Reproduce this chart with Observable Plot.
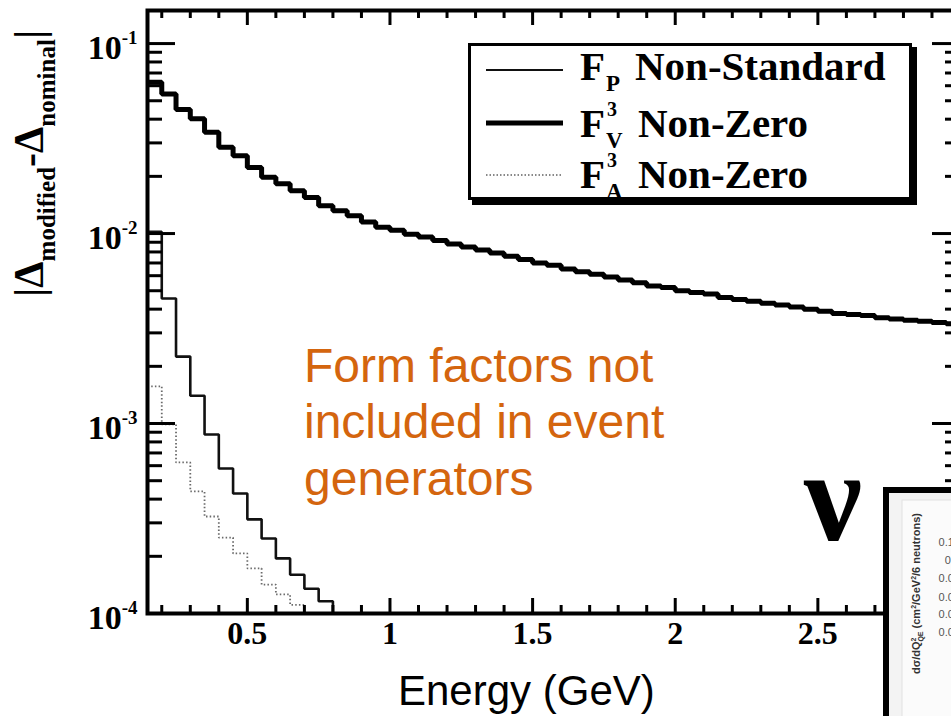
<!DOCTYPE html>
<html><head><meta charset="utf-8">
<script src="https://cdn.jsdelivr.net/npm/d3@7"></script>
<script src="https://cdn.jsdelivr.net/npm/@observablehq/plot@0.6"></script>
<style>
html,body{margin:0;padding:0;background:#fff;overflow:hidden;width:951px;height:716px;}
#wrap{position:relative;width:951px;height:716px;overflow:hidden;background:#fff;}
#wrap > svg{position:absolute;left:0;top:0;max-width:none !important;}
</style></head>
<body><div id="wrap"></div>
<script>
// ---------- data ----------
const binEdges = [0.15,0.20,0.25,0.30,0.35,0.40,0.45,0.50,0.55,0.60,0.65,0.70,0.75,0.80,0.85,0.90,0.95,1.00,
  1.05,1.10,1.15,1.20,1.25,1.30,1.35,1.40,1.45,1.50,1.55,1.60,1.65,1.70,1.75,1.80,1.85,1.90,1.95,2.00,
  2.05,2.10,2.15,2.20,2.25,2.30,2.35,2.40,2.45,2.50,2.55,2.60,2.65,2.70,2.75,2.80,2.85,2.90,2.95,3.00];

// F_V^3 Non-Zero (thick)
const fvValues = [0.0625,0.0543,0.0450,0.0402,0.0341,0.0285,0.0257,0.0223,0.0198,0.0183,0.0168,0.0155,
  0.0140,0.0132,0.0124,0.0115,0.0108,0.0104,0.0099,0.0096,0.0092,0.0088,0.0085,0.0082,0.0079,0.0076,
  0.0073,0.0070,0.0068,0.0065,0.0063,0.0061,0.0059,0.0057,0.0055,0.0053,0.0052,0.0050,0.0049,0.0048,
  0.0046,0.0045,0.0044,0.0043,0.0042,0.0041,0.0040,0.0039,0.0038,0.00375,0.0037,0.0036,0.00355,0.0035,
  0.00345,0.0034,0.00335];
// F_P Non-Standard (thin solid)
const fpValues = [0.0102,0.00455,0.00225,0.00140,0.000875,0.000580,0.000428,0.000313,0.000248,0.000195,
  0.000160,0.000135,0.000116,0.00008];
// F_A^3 Non-Zero (dotted)
const faValues = [0.00157,0.00099,0.000624,0.000439,0.000324,0.000251,0.000207,0.000173,0.000142,
  0.000126,0.000111,0.00009];

const xDomain = [0.15, 3.0];
const yDomain = [1e-4, 0.1493];
const xTickLabels = [0.5, 1, 1.5, 2, 2.5];
const xMajor = [0.5, 1, 1.5, 2, 2.5, 3];
const xMinor = [0.2,0.3,0.4,0.6,0.7,0.8,0.9,1.1,1.2,1.3,1.4,1.6,1.7,1.8,1.9,2.1,2.2,2.3,2.4,2.6,2.7,2.8,2.9];
const yDecades = [1e-4, 1e-3, 1e-2, 1e-1];
const yMinorMult = [2,3,4,5,6,7,8,9];

const legendEntries = [
  {main: "F", sub: "P", sup: "", text: "Non-Standard"},
  {main: "F", sub: "V", sup: "3", text: "Non-Zero"},
  {main: "F", sub: "A", sup: "3", text: "Non-Zero"}
];
const noteLines = ["Form factors not", "included in event", "generators"];
const insetTicks = ["0.12", "0.1", "0.08", "0.06", "0.04", "0.02"];

// ---------- build ----------
const hist = (vals) => vals.map((v, i) => ({E: binEdges[i], v}))
  .concat([{E: binEdges[vals.length], v: vals[vals.length - 1]}]);
const yMinor = yDecades.flatMap(d => yMinorMult.map(k => k * d)).filter(v => v < yDomain[1]);

const serif = "Liberation Serif, Times New Roman, serif";
const sans = "Liberation Sans, Arial, sans-serif";

const W = 962, H = 716, ML = 147, MR = 2, MT = 10, MB = 103;
// library scales, used to turn fixed tick lengths (px) into data-space ends
const xs = Plot.scale({x: {domain: xDomain, range: [ML, W - MR]}});
const ys = Plot.scale({y: {type: "log", domain: yDomain, range: [H - MB, MT]}});
const yBot = (px) => ys.invert(H - MB - px);
const yTop = (px) => ys.invert(MT + px);
const xLft = (px) => xs.invert(ML + px);
const xRgt = (px) => xs.invert(W - MR - px);
const tk = {stroke: "#000", strokeWidth: 3};

const chart = Plot.plot({
  width: W, height: H,
  marginLeft: ML, marginRight: MR, marginTop: MT, marginBottom: MB,
  x: {domain: xDomain},
  y: {type: "log", domain: yDomain},
  style: {fontFamily: serif, fontWeight: "bold", fontSize: "32px", background: "#fff", color: "#000", maxWidth: "none"},
  marks: [
    Plot.line(hist(faValues), {x: "E", y: "v", curve: "step-after", stroke: "#6a6a6a", strokeWidth: 1.8,
      strokeDasharray: "1.5,2.2", strokeLinejoin: "miter", strokeLinecap: "butt", clip: true}),
    Plot.line(hist(fpValues), {x: "E", y: "v", curve: "step-after", stroke: "#111", strokeWidth: 2.6,
      strokeLinejoin: "miter", strokeLinecap: "butt", clip: true}),
    Plot.line(hist(fvValues), {x: "E", y: "v", curve: "step-after", stroke: "#000", strokeWidth: 5,
      strokeLinejoin: "miter", strokeLinecap: "butt", clip: true}),
    // inward ticks
    Plot.ruleX(xMajor, {x: d => d, y1: () => yDomain[0], y2: () => yBot(15), ...tk}),
    Plot.ruleX(xMinor, {x: d => d, y1: () => yDomain[0], y2: () => yBot(8), ...tk}),
    Plot.ruleX(xMajor, {x: d => d, y1: () => yTop(15), y2: () => yDomain[1], ...tk}),
    Plot.ruleX(xMinor, {x: d => d, y1: () => yTop(8), y2: () => yDomain[1], ...tk}),
    Plot.ruleY(yDecades, {y: d => d, x1: () => xDomain[0], x2: () => xLft(28), ...tk}),
    Plot.ruleY(yMinor, {y: d => d, x1: () => xDomain[0], x2: () => xLft(15), ...tk}),
    Plot.ruleY(yDecades, {y: d => d, x1: () => xRgt(28), x2: () => xDomain[1], ...tk}),
    Plot.ruleY(yMinor, {y: d => d, x1: () => xRgt(15), x2: () => xDomain[1], ...tk}),
    // tick labels
    Plot.axisX(xTickLabels, {anchor: "bottom", tickSize: 0, tickPadding: 8, label: null,
      tickFormat: d => String(d), fontSize: 32, fontWeight: "bold", fontFamily: serif}),
    Plot.axisY(yDecades, {anchor: "left", tickSize: 0, tickPadding: 10, label: null, dy: 5,
      tickFormat: d => String(Math.round(Math.log10(d))), fontSize: 34, fontWeight: "bold", fontFamily: serif}),
    Plot.frame({stroke: "#000", strokeWidth: 4})
  ]
});
chart.style.maxWidth = "none";
chart.setAttribute("width", W);
chart.setAttribute("height", H);

// y tick labels as 10 with superscript exponent
d3.select(chart).selectAll('g[aria-label="y-axis tick label"] text').each(function () {
  const e = this.textContent;
  this.textContent = "";
  const t = d3.select(this);
  t.append("tspan").text("10");
  t.append("tspan").attr("dy", "-15").attr("font-size", "19px").text(e);
});

document.getElementById("wrap").appendChild(chart);

// ---------- slide overlay ----------
const ov = d3.create("svg").attr("width", 951).attr("height", 716)
  .style("position", "absolute").style("left", 0).style("top", 0);

// legend
ov.append("rect").attr("x", 472).attr("y", 47).attr("width", 445).attr("height", 158).attr("fill", "#000");
ov.append("rect").attr("x", 469.5).attr("y", 44.5).attr("width", 441).attr("height", 154)
  .attr("fill", "#fff").attr("stroke", "#000").attr("stroke-width", 3);
const lineY = [70, 123, 175];
const baseY = [80, 137, 188];
const lineStyles = [
  {stroke: "#111", w: 2.2, dash: null},
  {stroke: "#000", w: 5, dash: null},
  {stroke: "#888", w: 1.8, dash: "1.5,2"}
];
legendEntries.forEach((d, i) => {
  const s = lineStyles[i];
  const l = ov.append("line").attr("x1", 486).attr("x2", 563).attr("y1", lineY[i]).attr("y2", lineY[i])
    .attr("stroke", s.stroke).attr("stroke-width", s.w);
  if (s.dash) l.attr("stroke-dasharray", s.dash);
  const g = ov.append("g").attr("font-family", serif).attr("font-weight", "bold").attr("fill", "#000");
  g.append("text").attr("x", 580).attr("y", baseY[i]).attr("font-size", 41).text(d.main);
  g.append("text").attr("x", 606).attr("y", baseY[i] + 11).attr("font-size", 23).text(d.sub);
  if (d.sup) g.append("text").attr("x", 607).attr("y", baseY[i] - 21).attr("font-size", 20).text(d.sup);
  g.append("text").attr("x", i === 0 ? 635 : 638).attr("y", baseY[i]).attr("font-size", 41).text(d.text);
});

// y axis title
const yl = ov.append("text").attr("transform", "translate(43,297) rotate(-90)")
  .attr("font-family", serif).attr("font-weight", "bold").attr("font-size", 42).attr("fill", "#000");
yl.append("tspan").text("|Δ");
yl.append("tspan").attr("font-size", 25).attr("dy", 12).text("modified");
yl.append("tspan").attr("dy", -12).text("-Δ");
yl.append("tspan").attr("font-size", 25).attr("dy", 12).text("nominal");
yl.append("tspan").attr("dy", -12).text("|");

// x title (slide text)
ov.append("text").attr("x", 398).attr("y", 705).attr("font-family", sans).attr("font-size", 42)
  .attr("fill", "#000").text("Energy (GeV)");

// orange note
const noteBase = [382, 438, 495];
noteLines.forEach((t, i) => {
  ov.append("text").attr("x", 304).attr("y", noteBase[i]).attr("font-family", sans).attr("font-size", 48)
    .attr("fill", "#d4650e").text(t);
});

// nu
ov.append("text").attr("x", 804).attr("y", 540).attr("font-family", serif).attr("font-weight", "bold")
  .attr("font-size", 130).attr("fill", "#000").text("ν");

// inset (other chart, cropped)
ov.append("rect").attr("x", 886).attr("y", 490).attr("width", 90).attr("height", 250)
  .attr("fill", "#f3f3f3").attr("stroke", "#000").attr("stroke-width", 6);
ov.append("rect").attr("x", 902).attr("y", 500).attr("width", 70).attr("height", 240)
  .attr("fill", "#fbfbfb").attr("stroke", "#e2e2e2").attr("stroke-width", 1);
ov.append("text").attr("transform", "translate(920,513) rotate(-90)").attr("text-anchor", "end")
  .attr("font-family", sans).attr("font-weight", "bold").attr("font-size", 11).attr("fill", "#333")
  .call(t => {
    t.append("tspan").text("dσ/dQ");
    t.append("tspan").attr("font-size", 7).attr("dy", -4).text("2");
    t.append("tspan").attr("font-size", 7).attr("dy", 7).attr("dx", -4).text("QE");
    t.append("tspan").attr("dy", -3).text(" (cm");
    t.append("tspan").attr("font-size", 7).attr("dy", -4).text("2");
    t.append("tspan").attr("dy", 4).text("/GeV");
    t.append("tspan").attr("font-size", 7).attr("dy", -4).text("2");
    t.append("tspan").attr("dy", 4).text("/6 neutrons)");
  });
const insetBase = [546, 564, 582, 601, 618, 636];
insetTicks.forEach((t, i) => {
  ov.append("text").attr("x", 960).attr("y", insetBase[i]).attr("text-anchor", "end")
    .attr("font-family", sans).attr("font-size", 11).attr("fill", "#555").text(t);
});

document.getElementById("wrap").appendChild(ov.node());
</script>
</body></html>
